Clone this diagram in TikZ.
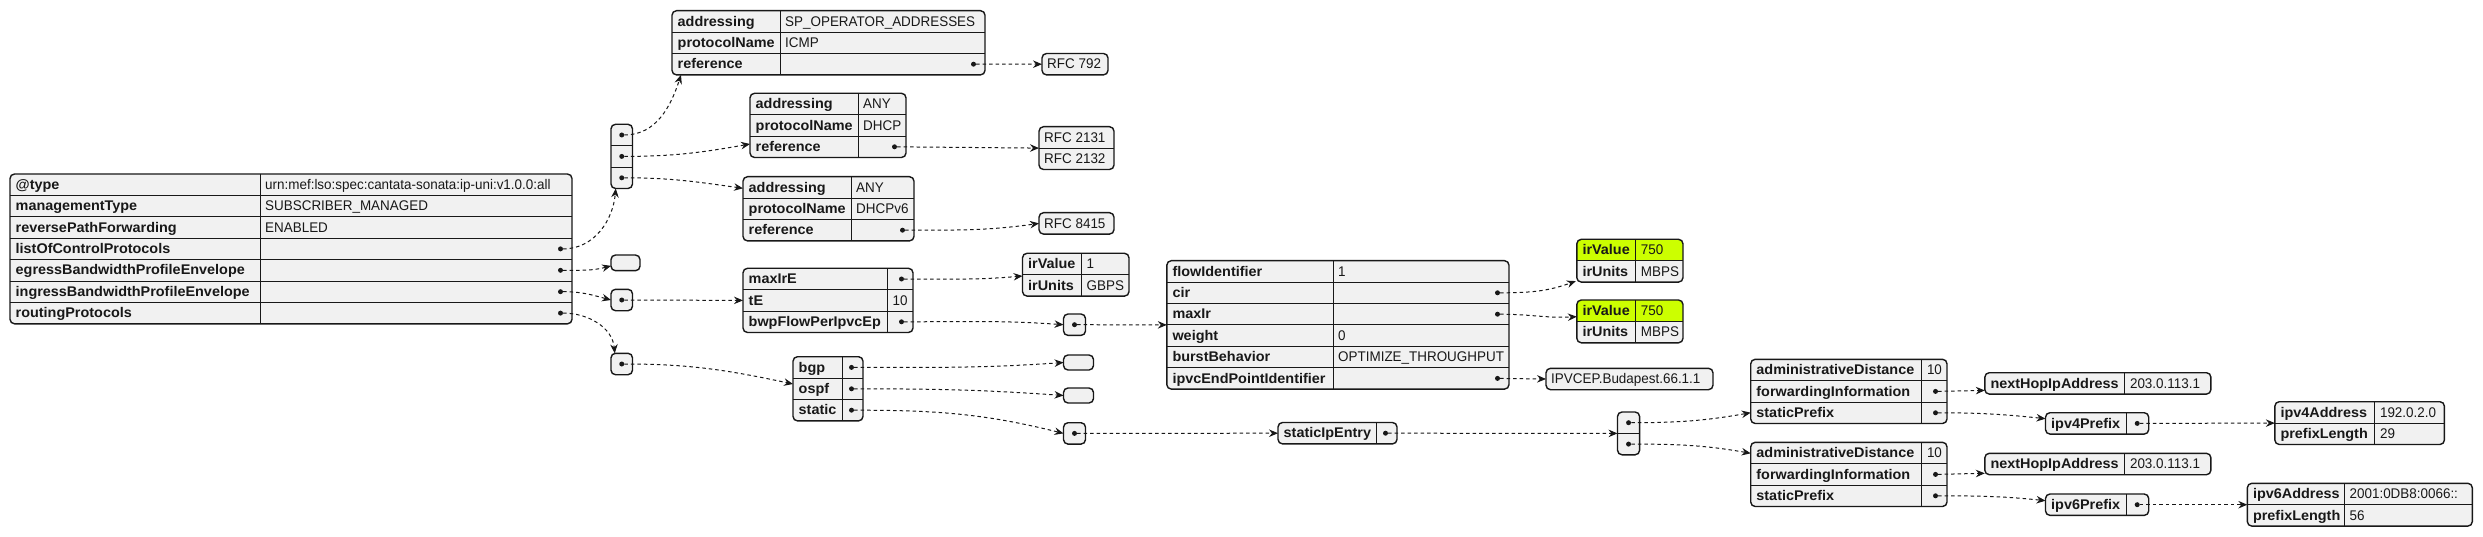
\documentclass[tikz,border=0pt]{standalone}
\usepackage{fontspec}
\setmainfont{Liberation Sans}
\newfontfamily\keyfam{Liberation Sans}[FakeStretch=1.03]
\newfontfamily\valfam{Liberation Sans}[FakeStretch=0.96]
\usetikzlibrary{arrows.meta}
\definecolor{lc}{HTML}{181818}
\definecolor{bgc}{HTML}{F1F1F1}
\definecolor{jlime}{HTML}{CCFF00}
\def\RH{21.4}
% table: id, x1, top, x2, rows, divider x (0 = none), extra fill code
\newcommand\jt[7]{%
  \pgfmathsetmacro\jtB{#3+#5*\RH}%
  \pgfmathsetmacro\jtW{#4-#2}%
  \pgfmathsetmacro\jtH{#5*\RH}%
  \node[tbfill, minimum width=\jtW pt, minimum height=\jtH pt] (#1) at (#2,#3) {};%
  #7%
  \ifnum#5>1 \foreach \jk in {2,...,#5} {\draw[divl] (#2,{#3+(\jk-1)*\RH}) -- (#4,{#3+(\jk-1)*\RH});}\fi
  \ifdim#6pt>0pt \draw[divl] (#6,#3) -- (#6,\jtB);\fi
  \draw[tbborder] (#1.north west) rectangle (#1.south east);}
% empty box: id, x1, y1, x2, y2
\newcommand\eb[5]{%
  \pgfmathsetmacro\jtW{#4-#2}\pgfmathsetmacro\jtH{#5-#3}%
  \node[tbfill, minimum width=\jtW pt, minimum height=\jtH pt] (#1) at (#2,#3) {};%
  \draw[tbborder] (#1.north west) rectangle (#1.south east);}
% key/value row: id, x1, div, top, i, key, value
\newcommand\kv[7]{%
  \node[keyt] (#1k) at ({#2+5.5},{#4+(#5-0.5)*\RH+4.7}) {#6};%
  \node[valt] (#1v) at ({#3+5},{#4+(#5-0.5)*\RH+4.7}) {#7};}
% key/dot row: id, x1, x2, top, i, key
\newcommand\kd[6]{%
  \node[keyt] (#1k) at ({#2+5.5},{#4+(#5-0.5)*\RH+4.7}) {#6};%
  \node[dotn] (#1) at ({#3-11.5},{#4+(#5-0.5)*\RH}) {};}
% array dot: id, x1, x2, top, i
\newcommand\ad[5]{%
  \node[dotn] (#1) at ({(#2+#3)/2},{#4+(#5-0.5)*\RH}) {};}
% value only: id, x1, top, i, text
\newcommand\vo[5]{%
  \node[valt] (#1) at ({#2+5},{#3+(#4-0.5)*\RH+4.7}) {#5};}
\begin{document}
\begin{tikzpicture}[x=1pt,y=-1pt,
  tbfill/.style={rectangle, fill=bgc, draw=none, inner sep=0pt, outer sep=0pt, anchor=north west, rounded corners=4.5pt},
  tbborder/.style={draw=lc, line width=1.4pt, rounded corners=4.5pt},
  divl/.style={draw=lc, line width=0.9pt},
  keyt/.style={anchor=base west, inner sep=0pt, text=lc, font=\keyfam\bfseries\fontsize{14pt}{16pt}\selectfont},
  valt/.style={anchor=base west, inner sep=0pt, text=lc, font=\valfam\fontsize{14pt}{16pt}\selectfont},
  dotn/.style={circle, fill=lc, draw=none, inner sep=0pt, minimum size=5pt},
  conn/.style={draw=lc, line width=1pt, dash pattern=on 3.5pt off 3pt, -{Stealth[length=9pt,width=7.5pt,inset=3pt]}}]
\fill[white] (0,0) rectangle (2483,537);
\useasboundingbox (0,0) rectangle (2483,537);

% main table
\jt{m}{10}{174}{572}{7}{260}{}
\kv{m1}{10}{260}{174}{1}{@type}{urn:mef:lso:spec:cantata-sonata:ip-uni:v1.0.0:all}
\kv{m2}{10}{260}{174}{2}{managementType}{SUBSCRIBER\_MANAGED}
\kv{m3}{10}{260}{174}{3}{reversePathForwarding}{ENABLED}
\kd{m4}{10}{572}{174}{4}{listOfControlProtocols}
\kd{m5}{10}{572}{174}{5}{egressBandwidthProfileEnvelope}
\kd{m6}{10}{572}{174}{6}{ingressBandwidthProfileEnvelope}
\kd{m7}{10}{572}{174}{7}{routingProtocols}

% control protocols array
\jt{a1}{611}{124.3}{632.5}{3}{0}{}
\ad{a1d1}{611}{632.5}{124.3}{1}
\ad{a1d2}{611}{632.5}{124.3}{2}
\ad{a1d3}{611}{632.5}{124.3}{3}

% protocol 1
\jt{p1}{672}{10.7}{985}{3}{780}{}
\kv{p1r1}{672}{780}{10.7}{1}{addressing}{SP\_OPERATOR\_ADDRESSES}
\kv{p1r2}{672}{780}{10.7}{2}{protocolName}{ICMP}
\kd{p1d3}{672}{985}{10.7}{3}{reference}
\jt{r1}{1042}{53.5}{1108}{1}{0}{}
\vo{r1t}{1042}{53.5}{1}{RFC 792}

% protocol 2
\jt{p2}{750}{93.3}{906}{3}{858}{}
\kv{p2r1}{750}{858}{93.3}{1}{addressing}{ANY}
\kv{p2r2}{750}{858}{93.3}{2}{protocolName}{DHCP}
\kd{p2d3}{750}{906}{93.3}{3}{reference}
\jt{r2}{1039}{126.7}{1114}{2}{0}{}
\vo{r2a}{1039}{126.7}{1}{RFC 2131}
\vo{r2b}{1039}{126.7}{2}{RFC 2132}

% protocol 3
\jt{p3}{743}{176.7}{914}{3}{851}{}
\kv{p3r1}{743}{851}{176.7}{1}{addressing}{ANY}
\kv{p3r2}{743}{851}{176.7}{2}{protocolName}{DHCPv6}
\kd{p3d3}{743}{914}{176.7}{3}{reference}
\jt{r3}{1039}{212.7}{1114}{1}{0}{}
\vo{r3t}{1039}{212.7}{1}{RFC 8415}

% egress / ingress / routing
\eb{eg}{611}{255}{640}{270.7}
\jt{ing}{611}{289.3}{632.5}{1}{0}{}
\ad{ingd}{611}{632.5}{289.3}{1}
\jt{rout}{611}{353.3}{632.5}{1}{0}{}
\ad{routd}{611}{632.5}{353.3}{1}

% ingress envelope
\jt{mx}{743}{268.3}{913}{3}{887.5}{}
\kd{mxd1}{743}{913}{268.3}{1}{maxIrE}
\kv{mxr2}{743}{887.5}{268.3}{2}{tE}{10}
\kd{mxd3}{743}{913}{268.3}{3}{bwpFlowPerIpvcEp}
\jt{iv1}{1022.5}{253.3}{1129}{2}{1081.4}{}
\kv{iv1r1}{1022.5}{1081.4}{253.3}{1}{irValue}{1}
\kv{iv1r2}{1022.5}{1081.4}{253.3}{2}{irUnits}{GBPS}
\jt{bwa}{1063.5}{314}{1085.5}{1}{0}{}
\ad{bwad}{1063.5}{1085.5}{314}{1}

% flow
\jt{fl}{1166.8}{260.7}{1509}{6}{1333}{}
\kv{flr1}{1166.8}{1333}{260.7}{1}{flowIdentifier}{1}
\kd{fld2}{1166.8}{1509}{260.7}{2}{cir}
\kd{fld3}{1166.8}{1509}{260.7}{3}{maxIr}
\kv{flr4}{1166.8}{1333}{260.7}{4}{weight}{0}
\kv{flr5}{1166.8}{1333}{260.7}{5}{burstBehavior}{OPTIMIZE\_THROUGHPUT}
\kd{fld6}{1166.8}{1509}{260.7}{6}{ipvcEndPointIdentifier}

\jt{g1}{1576.8}{239.3}{1683}{2}{1635.7}{\begin{scope}\clip[rounded corners=4.5pt] (1576.8,239.3) rectangle (1683,282.1);\fill[jlime] (1576.8,239.3) rectangle (1683,260.7);\end{scope}}
\kv{g1r1}{1576.8}{1635.7}{239.3}{1}{irValue}{750}
\kv{g1r2}{1576.8}{1635.7}{239.3}{2}{irUnits}{MBPS}
\jt{g2}{1576.8}{300}{1683}{2}{1635.7}{\begin{scope}\clip[rounded corners=4.5pt] (1576.8,300) rectangle (1683,342.8);\fill[jlime] (1576.8,300) rectangle (1683,321.4);\end{scope}}
\kv{g2r1}{1576.8}{1635.7}{300}{1}{irValue}{750}
\kv{g2r2}{1576.8}{1635.7}{300}{2}{irUnits}{MBPS}
\jt{ip}{1546}{368.3}{1713}{1}{0}{}
\vo{ipt}{1546}{368.3}{1}{IPVCEP.Budapest.66.1.1}

% routing protocols
\jt{bg}{793}{356.7}{863}{3}{842}{}
\kd{bgd1}{793}{863}{356.7}{1}{bgp}
\kd{bgd2}{793}{863}{356.7}{2}{ospf}
\kd{bgd3}{793}{863}{356.7}{3}{static}
\eb{bgE}{1063.5}{355}{1093.5}{370}
\eb{osE}{1063.5}{388}{1093.5}{403}
\jt{sta}{1063.5}{422.7}{1085.5}{1}{0}{}
\ad{stad}{1063.5}{1085.5}{422.7}{1}
\jt{sie}{1278}{422.5}{1397}{1}{1376}{}
\kd{sied}{1278}{1397}{422.5}{1}{staticIpEntry}
\jt{a2}{1617.5}{412}{1639.6}{2}{0}{}
\ad{a2d1}{1617.5}{1639.6}{412}{1}
\ad{a2d2}{1617.5}{1639.6}{412}{2}

% entry A
\jt{oA}{1750.7}{359.3}{1947}{3}{1921.8}{}
\kv{oAr1}{1750.7}{1921.8}{359.3}{1}{administrativeDistance}{10}
\kd{oAd2}{1750.7}{1947}{359.3}{2}{forwardingInformation}
\kd{oAd3}{1750.7}{1947}{359.3}{3}{staticPrefix}
\jt{nh1}{1984.8}{372.7}{2210.9}{1}{2124.8}{}
\kv{nh1r}{1984.8}{2124.8}{372.7}{1}{nextHopIpAddress}{203.0.113.1}
\jt{v4p}{2045.5}{412.7}{2148.7}{1}{2126.6}{}
\kd{v4pd}{2045.5}{2148.7}{412.7}{1}{ipv4Prefix}
\jt{v4a}{2274.8}{401.7}{2444.4}{2}{2374.8}{}
\kv{v4ar1}{2274.8}{2374.8}{401.7}{1}{ipv4Address}{192.0.2.0}
\kv{v4ar2}{2274.8}{2374.8}{401.7}{2}{prefixLength}{29}

% entry B
\jt{oB}{1750.7}{442.3}{1947}{3}{1921.8}{}
\kv{oBr1}{1750.7}{1921.8}{442.3}{1}{administrativeDistance}{10}
\kd{oBd2}{1750.7}{1947}{442.3}{2}{forwardingInformation}
\kd{oBd3}{1750.7}{1947}{442.3}{3}{staticPrefix}
\jt{nh2}{1984.8}{453.3}{2210.9}{1}{2124.8}{}
\kv{nh2r}{1984.8}{2124.8}{453.3}{1}{nextHopIpAddress}{203.0.113.1}
\jt{v6p}{2045.5}{494}{2148.7}{1}{2126.6}{}
\kd{v6pd}{2045.5}{2148.7}{494}{1}{ipv6Prefix}
\jt{v6a}{2247.3}{483.3}{2472.3}{2}{2344.4}{}
\kv{v6ar1}{2247.3}{2344.4}{483.3}{1}{ipv6Address}{2001:0DB8:0066::}
\kv{v6ar2}{2247.3}{2344.4}{483.3}{2}{prefixLength}{56}

% connectors
\draw[conn] (m4) to[out=0,in=265] ([xshift=-6pt]a1.south);
\draw[conn] (m5) to[out=0,in=195] ([yshift=-3pt]eg.west);
\draw[conn] (m6) to[out=0,in=165] (ing.west);
\draw[conn] (m7) to[out=0,in=95] ([xshift=-7pt]rout.north);
\draw[conn] (a1d1) to[out=0,in=252] ([xshift=9pt]p1.south west);
\draw[conn] (a1d2) to[out=0,in=190] ([yshift=-18.6pt]p2.west);
\draw[conn] (a1d3) to[out=0,in=172] ([yshift=20.5pt]p3.west);
\draw[conn] (p1d3) -- (r1.west);
\draw[conn] (p2d3) -- (r2.west);
\draw[conn] (p3d3) to[out=0,in=188] (r3.west);
\draw[conn] (ingd) -- (mx.west);
\draw[conn] (mxd1) to[out=0,in=185] ([yshift=-1.3pt]iv1.west);
\draw[conn] (mxd3) to[out=0,in=176] (bwa.west);
\draw[conn] (routd) to[out=0,in=168] ([yshift=4.8pt]bg.west);
\draw[conn] (bgd1) to[out=0,in=184] (bgE.west);
\draw[conn] (bgd2) to[out=0,in=176] (osE.west);
\draw[conn] (bgd3) to[out=0,in=166] (sta.west);
\draw[conn] (bwad) -- (fl.west);
\draw[conn] (fld2) to[out=0,in=200] ([xshift=-1pt,yshift=1pt]g1.south west);
\draw[conn] (fld3) to[out=0,in=183] ([yshift=4.7pt]g2.west);
\draw[conn] (fld6) -- (ip.west);
\draw[conn] (stad) -- (sie.west);
\draw[conn] (sied) -- (a2.west);
\draw[conn] (a2d1) to[out=0,in=190] ([yshift=-21.3pt]oA.west);
\draw[conn] (a2d2) to[out=0,in=170] ([yshift=21.1pt]oB.west);
\draw[conn] (oAd2) -- ([yshift=-7pt]nh1.west);
\draw[conn] (oAd3) to[out=0,in=174] ([yshift=4.7pt]v4p.west);
\draw[conn] (v4pd) -- (v4a.west);
\draw[conn] (oBd2) -- ([yshift=-9.3pt]nh2.west);
\draw[conn] (oBd3) to[out=0,in=174] ([yshift=4pt]v6p.west);
\draw[conn] (v6pd) -- (v6a.west);
\end{tikzpicture}
\end{document}
